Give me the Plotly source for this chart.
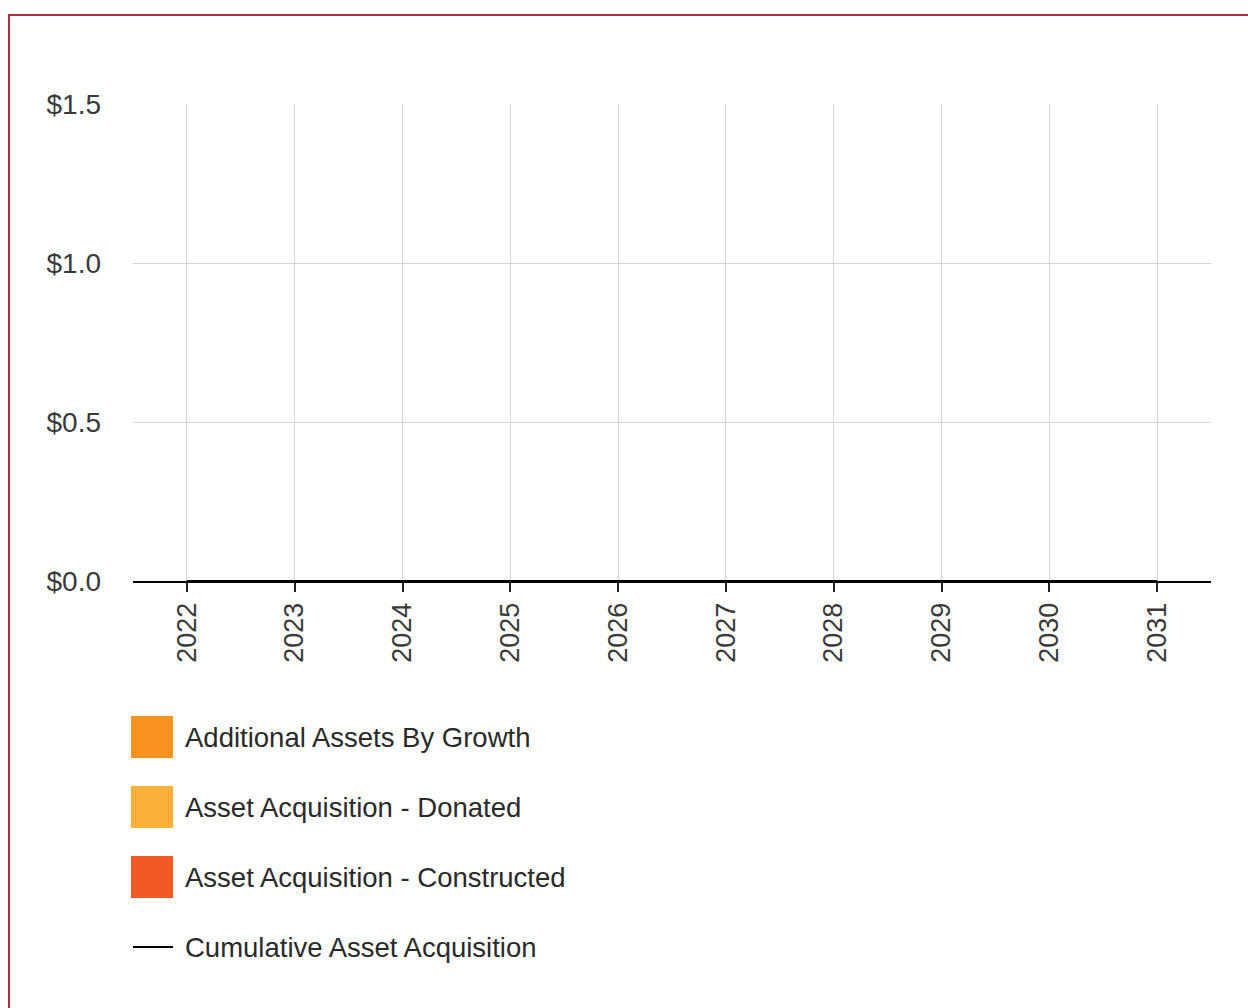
import plotly.graph_objects as go

# Forecast years and series values (all zero in this scenario, $ millions)
years = ["2022", "2023", "2024", "2025", "2026", "2027", "2028", "2029", "2030", "2031"]
growth_assets = [0, 0, 0, 0, 0, 0, 0, 0, 0, 0]
donated_assets = [0, 0, 0, 0, 0, 0, 0, 0, 0, 0]
constructed_assets = [0, 0, 0, 0, 0, 0, 0, 0, 0, 0]
cumulative_acquisition = [0, 0, 0, 0, 0, 0, 0, 0, 0, 0]

series_names = [
    "Additional Assets By Growth",
    "Asset Acquisition - Donated",
    "Asset Acquisition - Constructed",
    "Cumulative Asset Acquisition",
]
series_colors = ["#f7931e", "#fbb03b", "#f15a24", "#000000"]

y_ticks = [0.0, 0.5, 1.0, 1.5]

FONT = "Arial, Liberation Sans, sans-serif"
W, H = 1248, 1008
L, R, T, B = 133, 37, 104, 427
PW, PH = W - L - R, H - T - B


def px_x(px):
    return (px - L) / PW


def px_y(py):
    return (H - B - py) / PH


fig = go.Figure()
for vals, name, color in zip(
    [growth_assets, donated_assets, constructed_assets], series_names[:3], series_colors[:3]
):
    fig.add_trace(go.Bar(x=years, y=vals, name=name, marker_color=color, showlegend=False))

fig.add_trace(
    go.Scatter(
        x=years,
        y=cumulative_acquisition,
        mode="lines",
        name=series_names[3],
        line=dict(color=series_colors[3], width=2),
        showlegend=False,
    )
)

shapes = []
annotations = []

# Custom legend: large swatches on the lower left
row_centers = [737, 807, 877, 947]
for i, (name, color) in enumerate(zip(series_names, series_colors)):
    cy = row_centers[i]
    if i < 3:
        shapes.append(
            dict(
                type="rect", xref="paper", yref="paper",
                x0=px_x(131), x1=px_x(173), y0=px_y(cy - 21), y1=px_y(cy + 21),
                fillcolor=color, line=dict(width=0),
            )
        )
    else:
        shapes.append(
            dict(
                type="line", xref="paper", yref="paper",
                x0=px_x(133), x1=px_x(173), y0=px_y(cy), y1=px_y(cy),
                line=dict(color=color, width=2),
            )
        )
    annotations.append(
        dict(
            xref="paper", yref="paper", x=px_x(183), y=px_y(cy),
            xanchor="left", yanchor="middle", showarrow=False,
            text=name, font=dict(family=FONT, size=27.5, color="#2a2a2a"),
        )
    )

# Outer frame (left and top edges visible)
shapes.append(
    dict(
        type="rect", xref="paper", yref="paper", layer="above",
        x0=px_x(9), x1=px_x(1262), y0=px_y(1022), y1=px_y(15),
        line=dict(color="#b22b43", width=2), fillcolor="rgba(0,0,0,0)",
    )
)

fig.update_layout(
    width=W,
    height=H,
    margin=dict(l=L, r=R, t=T, b=B, autoexpand=False),
    paper_bgcolor="white",
    plot_bgcolor="white",
    barmode="stack",
    bargap=0.4,
    showlegend=False,
    font=dict(family=FONT, size=27, color="#333333"),
    shapes=shapes,
    annotations=annotations,
    xaxis=dict(
        type="category",
        tickangle=-90,
        showgrid=True,
        gridcolor="#d6d6d6",
        gridwidth=1,
        showline=True,
        linecolor="#000000",
        linewidth=2,
        ticks="outside",
        ticklen=9,
        tickwidth=2,
        tickcolor="#222222",
        tickfont=dict(family=FONT, size=27, color="#3a3a3a"),
        fixedrange=True,
    ),
    yaxis=dict(
        range=[0, 1.5],
        tickvals=y_ticks,
        tickformat="$.1f",
        showgrid=True,
        gridcolor="#d6d6d6",
        gridwidth=1,
        zeroline=False,
        showline=False,
        ticks="",
        ticklabelstandoff=31,
        tickfont=dict(family=FONT, size=28, color="#3a3a3a"),
        fixedrange=True,
    ),
)

fig.write_html("out.html")
